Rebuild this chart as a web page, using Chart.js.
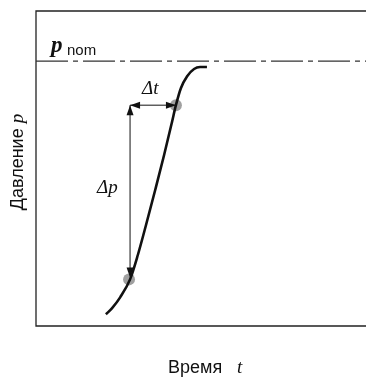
<!DOCTYPE html>
<html>
<head>
<meta charset="utf-8">
<script src="https://cdn.jsdelivr.net/npm/chart.js@4"></script>
<style>
  html, body { margin: 0; padding: 0; background: #fff; }
  #wrap { width: 367px; height: 378px; }
</style>
</head>
<body>
<div id="wrap"><canvas id="myChartCanvas" width="367" height="378"></canvas></div>
<script>
// pressure rise curve (time %, pressure %)
let curveTime = [21.2, 23.0, 25.5, 28.5, 30.9, 33.3, 36.1, 38.8, 41.2, 42.4, 43.9, 45.8, 47.9, 49.7, 51.8];
let curvePressure = [3.7, 5.6, 9.1, 14.8, 22.7, 31.9, 43.1, 54.2, 64.7, 70.1, 75.5, 79.3, 81.6, 82.2, 82.2];

// marked points on the curve
let markTime = [28.2, 42.4];
let markPressure = [14.8, 70.1];

// nominal pressure level
let nominalPressure = 84.1;

// arrow corner (delta t / delta p)
let arrowTime = [28.5, 42.4];
let arrowPressure = [14.8, 70.1];

let xMin = 0, xMax = 100;
let yMin = 0, yMax = 100;

let ctx = document.getElementById('myChartCanvas').getContext('2d');

function arrowHead(c, x, y, dx, dy) {
    let len = 10, half = 3.5;
    let bx = x - dx * len, by = y - dy * len;
    c.beginPath();
    c.moveTo(x, y);
    c.lineTo(bx - dy * half, by + dx * half);
    c.lineTo(bx + dy * half, by - dx * half);
    c.closePath();
    c.fill();
}

const decorPlugin = {
    id: 'decor',
    beforeDatasetsDraw(chart) {
        let c = chart.ctx;
        let a = chart.chartArea;
        let xs = chart.scales.x, ys = chart.scales.y;
        c.save();
        // frame: top, left, bottom
        c.strokeStyle = '#222';
        c.lineWidth = 1.3;
        c.beginPath();
        c.moveTo(a.right, a.top);
        c.lineTo(a.left, a.top);
        c.lineTo(a.left, a.bottom);
        c.lineTo(a.right, a.bottom);
        c.stroke();

        // nominal line
        let yn = ys.getPixelForValue(nominalPressure);
        c.strokeStyle = '#333';
        c.lineWidth = 1.2;
        c.setLineDash([32, 5, 5, 5]);
        c.beginPath();
        c.moveTo(a.left, yn);
        c.lineTo(a.right, yn);
        c.stroke();
        c.setLineDash([]);

        // gray marks
        c.fillStyle = 'rgba(150,150,150,0.9)';
        for (let i = 0; i < markTime.length; i++) {
            c.beginPath();
            c.arc(xs.getPixelForValue(markTime[i]), ys.getPixelForValue(markPressure[i]), 6, 0, Math.PI * 2);
            c.fill();
        }

        // arrows
        let x0 = xs.getPixelForValue(arrowTime[0]);
        let x1 = xs.getPixelForValue(arrowTime[1]);
        let y0 = ys.getPixelForValue(arrowPressure[0]);
        let y1 = ys.getPixelForValue(arrowPressure[1]);
        c.strokeStyle = '#111';
        c.fillStyle = '#111';
        c.lineWidth = 1;
        c.beginPath();
        c.moveTo(x0, y1);
        c.lineTo(x0, y0 - 4);
        c.moveTo(x0, y1);
        c.lineTo(x1, y1);
        c.stroke();
        arrowHead(c, x0, y1, 0, -1);
        arrowHead(c, x0, y0 - 2, 0, 1);
        arrowHead(c, x0, y1, -1, 0);
        arrowHead(c, x1, y1, 1, 0);
        c.restore();
    },
    afterDraw(chart) {
        let c = chart.ctx;
        c.save();
        c.fillStyle = '#111';
        c.textBaseline = 'alphabetic';

        // p_nom
        c.font = 'bold italic 23px "Liberation Serif"';
        c.fillText('p', 51, 52);
        c.font = '15px "Liberation Sans"';
        c.fillText('nom', 67, 55);

        // delta labels
        c.font = 'italic 19px "Liberation Serif"';
        c.fillText('\u0394t', 142, 94);
        c.fillText('\u0394p', 97, 193);

        // x title
        c.font = '18px "Liberation Sans"';
        c.fillText('Время', 168, 373);
        c.font = 'italic 19px "Liberation Serif"';
        c.fillText('t', 237, 373);

        // y title (rotated)
        c.translate(23, 162);
        c.rotate(-Math.PI / 2);
        c.font = '18px "Liberation Sans"';
        let t2 = 'Давление ';
        let w3 = c.measureText(t2).width;
        c.font = 'italic 19px "Liberation Serif"';
        let w4 = c.measureText('p').width;
        let sy = -(w3 + w4) / 2;
        c.font = '18px "Liberation Sans"';
        c.fillText(t2, sy, 0);
        c.font = 'italic 19px "Liberation Serif"';
        c.fillText('p', sy + w3, 0);
        c.restore();
    }
};

let chart = new Chart(ctx, {
    type: 'line',
    data: {
        datasets: [{
            data: curveTime.map((t, i) => ({ x: t, y: curvePressure[i] })),
            borderColor: '#111',
            borderWidth: 2.6,
            pointRadius: 0,
            cubicInterpolationMode: 'monotone',
            fill: false
        }]
    },
    options: {
        responsive: false,
        animation: false,
        layout: {
            padding: { left: 36, top: 11, right: 1, bottom: 52 }
        },
        plugins: {
            legend: { display: false },
            tooltip: { enabled: false }
        },
        scales: {
            x: { type: 'linear', display: false, min: xMin, max: xMax },
            y: { type: 'linear', display: false, min: yMin, max: yMax }
        }
    },
    plugins: [decorPlugin]
});
</script>
</body>
</html>
